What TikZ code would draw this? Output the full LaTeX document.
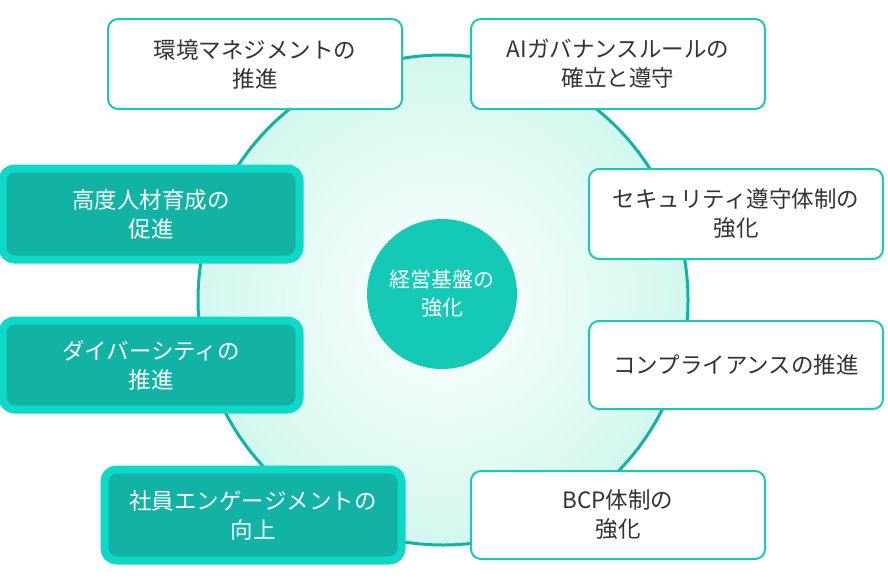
\documentclass[tikz,border=0pt]{standalone}
\usepackage{fontspec}
\setmainfont{Noto Sans CJK JP}
\begin{document}
\begin{tikzpicture}[x=1pt,y=-1pt,
  wbox/.style={draw=tealB,line width=2pt,fill=white,rounded corners=10pt,text=txt,font=\fontsize{22.5}{29}\selectfont,align=center,anchor=center},
  dbox/.style={draw=tealL,line width=8pt,fill=tealD,rounded corners=12pt,text=white,font=\fontsize{22.5}{29}\selectfont,align=center,anchor=center}]
\definecolor{tealB}{HTML}{1CC8B5}
\definecolor{tealL}{HTML}{0ED8C8}
\definecolor{tealD}{HTML}{12B3A5}
\definecolor{mint}{HTML}{D2F8EE}
\definecolor{txt}{HTML}{333333}
\definecolor{core}{HTML}{14C9B5}
\useasboundingbox (0,0) rectangle (888,586);
\shade[inner color=white,outer color=mint] (443,300) circle (245);
\draw[tealD,line width=3pt] (443,300) circle (245);
\node[circle,fill=core,minimum size=150pt,inner sep=0pt,text=white,font=\fontsize{21}{28}\selectfont,align=center] (c) at (442,294) {経営基盤の\\強化};
\node[wbox,minimum width=294pt,minimum height=90pt] (a) at (255,64) {環境マネジメントの\\推進};
\node[wbox,minimum width=294pt,minimum height=90pt] (b) at (618,64) {AIガバナンスルールの\\確立と遵守};
\node[wbox,minimum width=294pt,minimum height=90pt] (s) at (736,214) {セキュリティ遵守体制の\\強化};
\node[wbox,minimum width=294pt,minimum height=88pt] (k) at (736,365) {コンプライアンスの推進};
\node[wbox,minimum width=294pt,minimum height=88pt] (bcp) at (618,515) {BCP体制の\\強化};
\node[dbox,minimum width=297pt,minimum height=91pt] (e) at (253,515) {社員エンゲージメントの\\向上};
\node[dbox,minimum width=297pt,minimum height=89pt] (d) at (151,365) {ダイバーシティの\\推進};
\node[dbox,minimum width=297pt,minimum height=91pt] (h) at (151,214) {高度人材育成の\\促進};
\end{tikzpicture}
\end{document}
